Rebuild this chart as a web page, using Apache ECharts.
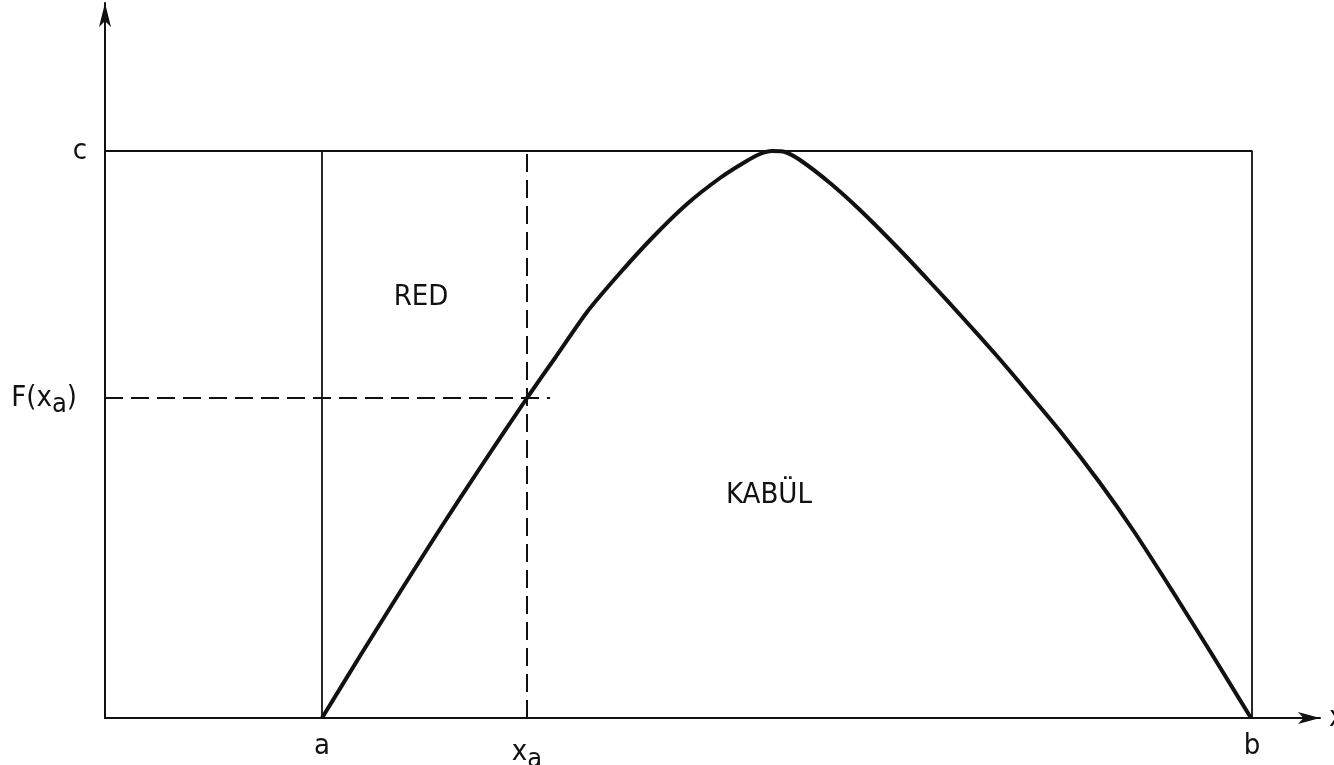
<!DOCTYPE html>
<html>
<head>
<meta charset="utf-8">
<script src="https://cdn.jsdelivr.net/npm/echarts@6/dist/echarts.min.js"></script>
<style>
  html, body { margin: 0; padding: 0; background: #fff; }
  #main { width: 1334px; height: 765px; }
</style>
</head>
<body>
<div id="main"></div>
<script>
// key points on the axes
var aVal = 21.7;   // a
var xaVal = 42.2;  // x_a
var bVal = 114.7;  // b
var cVal = 56.7;   // c
var fxaVal = 32.0; // F(x_a)

var xTickValues = [aVal, xaVal, bVal];
var yTickValues = [fxaVal, cVal];

// the curve F(x)
var curveX = [21.7, 25.5, 29.5, 33.5, 37.5, 42.2, 45.0, 48.2, 51.5, 54.8, 58.2, 61.5, 64.0, 65.5, 66.7,
  68.0, 69.5, 72.5, 75.5, 79.2, 82.5, 85.8, 89.2, 91.5, 95.5, 99.5, 102.8, 106.8, 110.8, 114.6];
var curveY = [0, 6.2, 12.6, 18.9, 25.0, 32.0, 36.0, 40.6, 44.5, 48.1, 51.4, 54.0, 55.6, 56.4, 56.7,
  56.6, 55.8, 53.5, 50.8, 47.1, 43.6, 40.0, 36.2, 33.5, 28.7, 23.5, 18.8, 12.6, 6.2, 0];

var regionNames = ['RED', 'KABÜL'];
var regionPos = [[31.6, 42.1], [66.4, 22.3]];

var chart = echarts.init(document.getElementById('main'));

var curveData = [];
for (var i = 0; i < curveX.length; i++) {
  curveData.push([curveX[i], curveY[i]]);
}
var regionData = [];
for (var j = 0; j < regionNames.length; j++) {
  regionData.push({ name: regionNames[j], value: regionPos[j] });
}

var ink = '#111';
var font = 'DejaVu Sans Condensed';
var fs = 29;

function lineSeries(data, width, dashed) {
  return {
    type: 'line',
    data: data,
    symbol: 'none',
    silent: true,
    lineStyle: {
      color: ink,
      width: width,
      type: dashed ? [18, 8] : 'solid'
    }
  };
}

var option = {
  animation: false,
  backgroundColor: '#fff',
  grid: {
    left: 105,
    right: 14,
    top: 3,
    bottom: 47,
    outerBoundsMode: 'none'
  },
  xAxis: {
    type: 'value',
    min: 0,
    max: 121.5,
    name: 'x',
    nameLocation: 'end',
    nameGap: 9,
    nameTextStyle: { color: ink, fontFamily: font, fontSize: fs },
    splitLine: { show: false },
    axisTick: { show: false },
    axisLine: {
      symbol: ['none', 'arrow'],
      symbolSize: [9, 22],
      lineStyle: { color: ink, width: 2 }
    },
    axisLabel: {
      customValues: xTickValues,
      margin: 14,
      color: ink,
      fontFamily: font,
      fontSize: fs,
      formatter: function (v) {
        if (v === aVal) return 'a';
        if (v === bVal) return 'b';
        return '{m|x}{s|a}';
      },
      rich: {
        m: { fontFamily: font, fontSize: fs, color: ink },
        s: { fontFamily: font, fontSize: 27, color: ink, padding: [14, 0, 0, 0] }
      }
    }
  },
  yAxis: {
    type: 'value',
    min: 0,
    max: 71.5,
    splitLine: { show: false },
    axisTick: { show: false },
    axisLine: {
      symbol: ['none', 'arrow'],
      symbolSize: [9, 24],
      lineStyle: { color: ink, width: 2 }
    },
    axisLabel: {
      customValues: yTickValues,
      margin: 18,
      color: ink,
      fontFamily: font,
      fontSize: fs,
      formatter: function (v) {
        if (v === cVal) return 'c';
        return '{m|F(x}{s|a}{m|)}{p|}';
      },
      rich: {
        m: { fontFamily: font, fontSize: fs, color: ink },
        s: { fontFamily: font, fontSize: 27, color: ink, padding: [14, 0, 0, 0] },
        p: { width: 10 }
      }
    }
  },
  series: [
    // rectangle: top edge at c and right edge at b
    lineSeries([[0, cVal], [bVal, cVal], [bVal, 0]], 1.8, false),
    // left edge at a
    lineSeries([[aVal, 0], [aVal, cVal]], 1.8, false),
    // dashed guides at x_a and F(x_a)
    lineSeries([[xaVal, 0], [xaVal, cVal]], 2, true),
    lineSeries([[0, fxaVal], [44.5, fxaVal]], 2, true),
    // the curve
    {
      type: 'line',
      data: curveData,
      symbol: 'none',
      smooth: 0.2,
      silent: true,
      lineStyle: { color: ink, width: 4 }
    },
    // region labels
    {
      type: 'scatter',
      data: regionData,
      symbolSize: 0,
      silent: true,
      itemStyle: { opacity: 1 },
      label: {
        show: true,
        position: 'inside',
        formatter: '{b}',
        color: ink,
        opacity: 1,
        fontFamily: font,
        fontSize: fs
      }
    }
  ]
};

chart.setOption(option);
</script>
</body>
</html>
